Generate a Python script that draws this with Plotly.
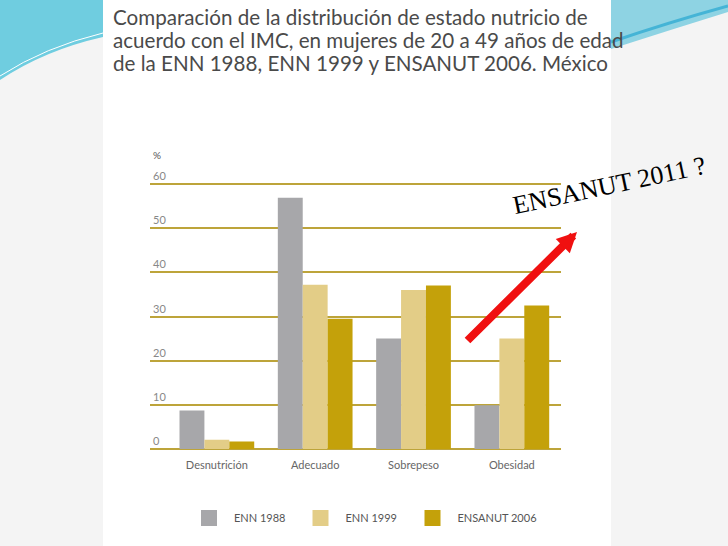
import plotly.graph_objects as go

categories = ["Desnutrición", "Adecuado", "Sobrepeso", "Obesidad"]
series_names = ["ENN 1988", "ENN 1999", "ENSANUT 2006"]
enn1988 = [8.7, 56.9, 25.0, 9.9]
enn1999 = [2.1, 37.2, 36.0, 25.0]
ensanut2006 = [1.7, 29.5, 37.0, 32.5]
y_ticks = [0, 10, 20, 30, 40, 50, 60]
title_lines = [
    "Comparación de la distribución de estado nutricio de",
    "acuerdo con el IMC, en mujeres de 20 a 49 años de edad",
    "de la ENN 1988, ENN 1999 y ENSANUT 2006. México",
]

colors = ["#a7a7aa", "#e3cd87", "#c4a10a"]
W, H = 728, 546
L, R, T, B = 150, 561, 169, 449
YMAX = 60 * (B - T) / (449 - 184)


def px(x):
    return (x - L) / (R - L)


def py(y):
    return (B - y) / (B - T)


fig = go.Figure()
for name, vals, col in zip(series_names, [enn1988, enn1999, ensanut2006], colors):
    fig.add_trace(go.Bar(x=categories, y=vals, name=name, marker=dict(color=col, line=dict(width=0)),
                         showlegend=False))
legend_ids = ["legend", "legend2", "legend3"]
for name, col, lid in zip(series_names, colors, legend_ids):
    fig.add_trace(go.Scatter(x=[None], y=[None], mode="markers", name=name, legend=lid,
                             marker=dict(symbol="square", size=16, color=col)))

shapes = []
shapes.append(dict(type="rect", xref="paper", yref="paper", x0=px(103), x1=px(611), y0=py(H), y1=py(0),
                   fillcolor="white", line=dict(width=0), layer="below"))
shapes.append(dict(type="path", xref="paper", yref="paper", layer="below",
                   path=f"M{px(0)},{py(0)} L{px(103)},{py(0)} L{px(103)},{py(37)} "
                        f"Q{px(45)},{py(50)} {px(0)},{py(80)} Z",
                   fillcolor="#6fcde0", line=dict(width=0)))
shapes.append(dict(type="path", xref="paper", yref="paper", layer="below",
                   path=f"M{px(0)},{py(76)} Q{px(45)},{py(47)} {px(103)},{py(33)}",
                   line=dict(color="white", width=1)))
shapes.append(dict(type="path", xref="paper", yref="paper", layer="below",
                   path=f"M{px(611)},{py(0)} L{px(728)},{py(0)} L{px(728)},{py(12)} "
                        f"Q{px(670)},{py(30)} {px(611)},{py(49)} Z",
                   fillcolor="#8ed3e3", line=dict(width=0)))
shapes.append(dict(type="path", xref="paper", yref="paper", layer="below",
                   path=f"M{px(611)},{py(42)} Q{px(670)},{py(22)} {px(728)},{py(6)}",
                   line=dict(color="#45b4d6", width=3)))

annotations = []
for i, line in enumerate(title_lines):
    annotations.append(dict(text=line, xref="paper", yref="paper", x=px(111), y=py([17, 40, 63][i]),
                            xanchor="left", yanchor="middle", showarrow=False,
                            font=dict(family="Lato", size=20.6, color="#4a4a4a")))
annotations.append(dict(text="%", xref="paper", yref="paper", x=px(151), y=py(155), xanchor="left",
                        yanchor="middle", showarrow=False, font=dict(family="Lato", size=10, color="#555")))
annotations.append(dict(text="", xref="paper", yref="paper", x=px(577), y=py(232), ax=-111, ay=110,
                        showarrow=True, arrowhead=2, arrowsize=0.5, arrowwidth=8, arrowcolor="#f01010"))
annotations.append(dict(text="ENSANUT 2011 ?", xref="paper", yref="paper", x=px(609), y=py(185),
                        xanchor="center", yanchor="middle", showarrow=False, textangle=-12,
                        font=dict(family="Liberation Serif", size=26, color="black")))

legend_common = dict(orientation="h", yanchor="middle", xanchor="left", bgcolor="rgba(0,0,0,0)",
                     itemwidth=40, font=dict(family="Lato", size=11, color="#555"))
legend_x = [184, 295.5, 407.5]

fig.update_layout(
    width=W, height=H,
    margin=dict(l=L, r=W - R, t=T, b=H - B, pad=0),
    paper_bgcolor="#f4f4f4",
    plot_bgcolor="rgba(0,0,0,0)",
    barmode="group", bargap=0.24, bargroupgap=0,
    xaxis=dict(range=[-0.68, 3.5], showgrid=False, zeroline=False, showline=False,
               ticks="outside", ticklen=6, tickcolor="rgba(0,0,0,0)",
               tickfont=dict(family="Lato", size=11, color="#666")),
    yaxis=dict(range=[0, YMAX], tickvals=y_ticks, showgrid=True, gridcolor="#bda43a", gridwidth=1.6,
               zeroline=True, zerolinecolor="#bda43a", zerolinewidth=1.6, showline=False,
               ticklabelposition="inside top", tickfont=dict(family="Lato", size=11, color="#888")),
    legend=dict(x=px(legend_x[0]), y=py(518), **legend_common),
    legend2=dict(x=px(legend_x[1]), y=py(518), **legend_common),
    legend3=dict(x=px(legend_x[2]), y=py(518), **legend_common),
    shapes=shapes,
    annotations=annotations,
)

fig.write_html("out.html", config={"displayModeBar": False},
               post_script="document.body.style.margin='0';")
